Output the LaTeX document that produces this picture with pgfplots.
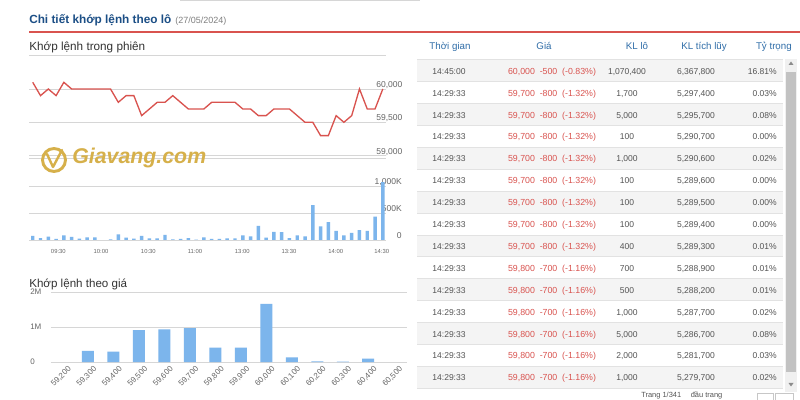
\documentclass[border=0pt]{standalone}
\usepackage{pgfplots}
\pgfplotsset{compat=1.18}
\usepackage{fontspec}
\setmainfont{Liberation Sans}
\definecolor{titleblue}{HTML}{1C4F86}
\definecolor{headblue}{HTML}{2F6DA8}
\definecolor{redl}{HTML}{D9534F}
\definecolor{pricered}{HTML}{D9534F}
\definecolor{barblue}{HTML}{7CB5EC}
\definecolor{gridc}{HTML}{D6D6D6}
\definecolor{txtg}{HTML}{555555}
\definecolor{tickg}{HTML}{666666}
\definecolor{rowbg}{HTML}{F4F4F4}
\definecolor{rowline}{HTML}{E2E2E2}
\definecolor{gold}{HTML}{D6B04A}
\definecolor{darkt}{HTML}{333333}
\tikzset{dat/.style={inner sep=0pt, font=\fontsize{6.4}{7}\selectfont, text=txtg}}
\newcommand{\trow}[6]{%
  \pgfmathsetmacro{\cy}{400-(70.7+21.9*#1)}%
  \node[dat,anchor=mid] at (449,\cy) {#2};%
  \node[dat,anchor=mid,text=pricered,font=\fontsize{6.6}{7}\selectfont] at (552,\cy) {#3};%
  \node[dat,anchor=mid] at (627,\cy) {#4};%
  \node[dat,anchor=mid] at (696,\cy) {#5};%
  \node[dat,anchor=mid east] at (777,\cy) {#6};%
}
\newcommand{\pr}[3]{#1\hspace{0.55em}#2\hspace{0.55em}(#3\%)}
\begin{document}
\begin{tikzpicture}[x=0.75pt,y=0.75pt]
\useasboundingbox (0,0) rectangle (800,400);
\fill[white] (0,0) rectangle (800,400);
% top fragment line
\draw[gridc, line width=0.6pt] (180,399.4) -- (420,399.4);
% title
\node[inner sep=0pt, anchor=mid west, font=\fontsize{8.85}{10}\selectfont\bfseries, text=titleblue] at (29,400-20) {Chi tiết khớp lệnh theo lô};
\node[inner sep=0pt, anchor=mid west, font=\fontsize{6.75}{8}\selectfont, text=gray] at (175,400-20) {(27/05/2024)};
\draw[redl, line width=1.1pt] (29,400-32) -- (800,400-32);
% left section title
\node[inner sep=0pt, anchor=mid west, font=\fontsize{8.8}{10}\selectfont, text=darkt] at (29,400-47.3) {Khớp lệnh trong phiên};
\draw[gridc, line width=0.7pt] (29,400-55) -- (386,400-55);
\draw[gridc, line width=0.6pt] (29,400-158.3) -- (386,400-158.3);

% price line chart
\begin{axis}[at={(21.75pt,183.3pt)}, anchor=south west, scale only axis,
  width=267.75pt, height=60.45pt, xmin=-0.48, xmax=45.41, ymin=59000, ymax=60210,
  scaled y ticks=false,
  axis line style={draw=none}, major tick length=0pt, xtick=\empty,
  ytick={59000,59500,60000}, yticklabels={{59,000},{59,500},{60,000}},
  ymajorgrids, grid style={gridc, line width=0.6pt},
  yticklabel pos=right,
  yticklabel style={anchor=east, inner sep=0pt, xshift=12.5pt, yshift=3pt, font=\fontsize{6.4}{7}\selectfont, text=tickg},
  clip=false]
\addplot[redl, line width=1pt, mark=none] coordinates {
(0,60100) (1,59900) (2,60000) (3,59900) (4,60100) (5,60000) (6,60000) (7,60000) (8,60000) (9,60000)
(10,60000) (11,59800) (12,59900) (13,59900) (14,59600) (15,59700) (16,59800) (17,59800) (18,59900) (19,59800)
(20,59700) (21,59700) (22,59700) (23,59800) (24,59800) (25,59800) (26,59800) (27,59700) (28,59700) (29,59600)
(30,59600) (31,59700) (32,59700) (33,59700) (34,59600) (35,59500) (36,59500) (37,59300) (38,59300) (39,59600)
(40,59500) (41,59600) (42,60000) (43,59700) (44,59700) (45,60000)};
\end{axis}

% volume bar chart
\begin{axis}[at={(21.75pt,120pt)}, anchor=south west, scale only axis,
  width=267.75pt, height=46.5pt, xmin=-0.48, xmax=45.41, ymin=0, ymax=1148,
  scaled y ticks=false,
  ybar, bar width=2.6pt,
  axis line style={draw=none}, major tick length=0pt,
  ytick={0,500,1000}, yticklabels={0,500K,{1,000K}},
  ymajorgrids, grid style={gridc, line width=0.6pt},
  yticklabel pos=right,
  yticklabel style={anchor=east, inner sep=0pt, xshift=12pt, yshift=3pt, font=\fontsize{6.4}{7}\selectfont, text=tickg},
  xtick={3.29,8.78,14.86,20.86,26.94,32.94,38.95,44.86},
  xticklabels={09:30,10:00,10:30,11:00,13:00,13:30,14:00,14:30},
  xticklabel style={anchor=north, inner sep=0pt, yshift=-6.5pt, font=\fontsize{4.4}{5}\selectfont, text=tickg},
  clip=false]
\addplot[fill=barblue, draw=none] coordinates {
(0,75) (1,37) (2,62) (3,19) (4,87) (5,56) (6,25) (7,50) (8,50) (10,12)
(11,106) (12,44) (13,25) (14,75) (15,31) (16,31) (17,94) (18,12) (19,19) (20,37)
(21,6) (22,50) (23,19) (24,19) (25,31) (26,31) (27,87) (28,69) (29,262) (30,44)
(31,150) (32,144) (33,37) (34,87) (35,69) (36,644) (37,250) (38,331) (39,169) (40,87)
(41,131) (42,181) (43,169) (44,431) (45,1070)};
\end{axis}

% second section title
\node[inner sep=0pt, anchor=mid west, font=\fontsize{8.7}{10}\selectfont, text=darkt] at (29,400-284) {Khớp lệnh theo giá};

% volume by price chart
\begin{axis}[at={(38.25pt,28.5pt)}, anchor=south west, scale only axis,
  width=267pt, height=54pt, xmin=-0.443, xmax=13.52, ymin=0, ymax=2.057,
  scaled y ticks=false,
  ybar, bar width=9pt,
  axis line style={draw=none}, major tick length=0pt,
  ytick={0,1,2}, yticklabels={0,1M,2M},
  ymajorgrids, grid style={gridc, line width=0.6pt},
  yticklabel style={anchor=west, inner sep=0pt, xshift=-15.75pt, font=\fontsize{6}{7}\selectfont, text=tickg},
  xtick={0,1,2,3,4,5,6,7,8,9,10,11,12,13},
  xticklabels={{59,200},{59,300},{59,400},{59,500},{59,600},{59,700},{59,800},{59,900},{60,000},{60,100},{60,200},{60,300},{60,400},{60,500}},
  xticklabel style={rotate=45, anchor=north east, inner sep=0pt, yshift=-4.5pt, xshift=1pt, font=\fontsize{6}{7}\selectfont, text=tickg},
  clip=false]
\addplot[fill=barblue, draw=none] coordinates {
(1,0.32) (2,0.30) (3,0.91) (4,0.93) (5,0.97) (6,0.41) (7,0.41) (8,1.66) (9,0.13) (10,0.02) (11,0.01) (12,0.10)};
\end{axis}

% watermark
\draw[gold, line width=2.2pt] (54,400-160) circle (11.5);
\draw[gold, line width=1.8pt, line join=round, line cap=round] (47,400-154) -- (53,400-167) -- (62,400-150);
\node[inner sep=0pt, anchor=mid west, font=\fontsize{16}{18}\selectfont\bfseries\itshape, text=gold] at (72,400-160) {Giavang.com};

% table header
\node[inner sep=0pt, anchor=mid, font=\fontsize{7.3}{9}\selectfont, text=headblue] at (450,400-46) {Thời gian};
\node[inner sep=0pt, anchor=mid, font=\fontsize{7.3}{9}\selectfont, text=headblue] at (544,400-46) {Giá};
\node[inner sep=0pt, anchor=mid, font=\fontsize{7.3}{9}\selectfont, text=headblue] at (637,400-46) {KL lô};
\node[inner sep=0pt, anchor=mid, font=\fontsize{7.3}{9}\selectfont, text=headblue] at (704,400-46) {KL tích lũy};
\node[inner sep=0pt, anchor=mid east, font=\fontsize{7.3}{9}\selectfont, text=headblue] at (792,400-46) {Tỷ trọng};

% row backgrounds and separators
\foreach \k in {0,2,...,14} {
  \fill[rowbg] (417,{400-(59.75+21.9*\k)}) rectangle (783,{400-(81.65+21.9*\k)});
}
\foreach \k in {0,...,15} {
  \draw[rowline, line width=0.6pt] (417,{400-(59.75+21.9*\k)}) -- (783,{400-(59.75+21.9*\k)});
}
\trow{0}{14:45:00}{\pr{60,000}{-500}{-0.83}}{1,070,400}{6,367,800}{16.81\%}
\trow{1}{14:29:33}{\pr{59,700}{-800}{-1.32}}{1,700}{5,297,400}{0.03\%}
\trow{2}{14:29:33}{\pr{59,700}{-800}{-1.32}}{5,000}{5,295,700}{0.08\%}
\trow{3}{14:29:33}{\pr{59,700}{-800}{-1.32}}{100}{5,290,700}{0.00\%}
\trow{4}{14:29:33}{\pr{59,700}{-800}{-1.32}}{1,000}{5,290,600}{0.02\%}
\trow{5}{14:29:33}{\pr{59,700}{-800}{-1.32}}{100}{5,289,600}{0.00\%}
\trow{6}{14:29:33}{\pr{59,700}{-800}{-1.32}}{100}{5,289,500}{0.00\%}
\trow{7}{14:29:33}{\pr{59,700}{-800}{-1.32}}{100}{5,289,400}{0.00\%}
\trow{8}{14:29:33}{\pr{59,700}{-800}{-1.32}}{400}{5,289,300}{0.01\%}
\trow{9}{14:29:33}{\pr{59,800}{-700}{-1.16}}{700}{5,288,900}{0.01\%}
\trow{10}{14:29:33}{\pr{59,800}{-700}{-1.16}}{500}{5,288,200}{0.01\%}
\trow{11}{14:29:33}{\pr{59,800}{-700}{-1.16}}{1,000}{5,287,700}{0.02\%}
\trow{12}{14:29:33}{\pr{59,800}{-700}{-1.16}}{5,000}{5,286,700}{0.08\%}
\trow{13}{14:29:33}{\pr{59,800}{-700}{-1.16}}{2,000}{5,281,700}{0.03\%}
\trow{14}{14:29:33}{\pr{59,800}{-700}{-1.16}}{1,000}{5,279,700}{0.02\%}

% scrollbar
\fill[white!94!black] (785,400-59) rectangle (797,400-392);
\fill[white!76!black] (786,400-72) rectangle (796,400-372);
\fill[white!55!black] (788.5,400-65) -- (793.5,400-65) -- (791,400-61.5) -- cycle;
\fill[white!55!black] (788.5,400-383) -- (793.5,400-383) -- (791,400-386.5) -- cycle;

% pagination
\node[inner sep=0pt, anchor=south west, font=\fontsize{5.6}{7}\selectfont, text=txtg] at (641,400-399) {Trang 1/341 \quad đầu trang};
\draw[white!78!black, line width=0.6pt] (757,400-393) rectangle (773,400-412);
\draw[white!78!black, line width=0.6pt] (775,400-393) rectangle (793,400-412);
\end{tikzpicture}
\end{document}
